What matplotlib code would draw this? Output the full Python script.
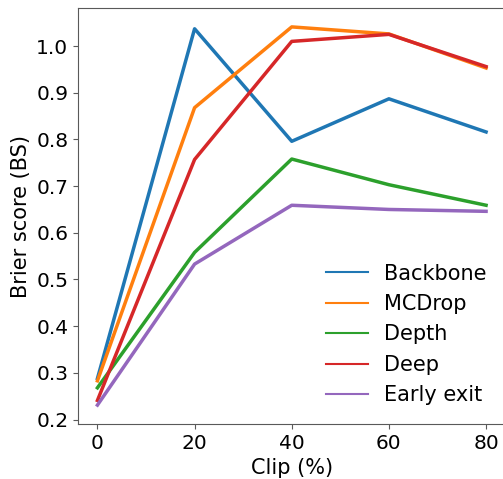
import matplotlib
matplotlib.use("Agg")
import matplotlib.pyplot as plt

# Brier score vs. clip percentage
clip = [0, 20, 40, 60, 80]
backbone = [0.288, 1.037, 0.796, 0.887, 0.816]
mcdrop = [0.283, 0.868, 1.041, 1.026, 0.953]
depth = [0.268, 0.558, 0.758, 0.703, 0.659]
deep = [0.241, 0.757, 1.010, 1.025, 0.956]
early_exit = [0.231, 0.533, 0.659, 0.650, 0.646]

series = [
    ("Backbone", backbone, "#1f77b4"),
    ("MCDrop", mcdrop, "#ff7f0e"),
    ("Depth", depth, "#2ca02c"),
    ("Deep", deep, "#d62728"),
    ("Early exit", early_exit, "#9467bd"),
]

plt.rcParams["font.size"] = 15

fig = plt.figure(figsize=(5.03, 4.79), dpi=100)
ax = fig.add_axes([78 / 503, 55 / 479, 427.5 / 503, 416 / 479])

for name, vals, col in series:
    ax.plot(clip, vals, color=col, linewidth=2.5, label=name)

ax.set_xticks([0, 20, 40, 60, 80])
ax.set_yticks([0.2, 0.3, 0.4, 0.5, 0.6, 0.7, 0.8, 0.9, 1.0])
ax.set_xlabel("Clip (%)")
ax.set_ylabel("Brier score (BS)")

for sp in ax.spines.values():
    sp.set_color("0.35")
ax.tick_params(colors="0.35", labelcolor="black", labelsize=14.5)

leg = ax.legend(loc="lower right", frameon=False)
for line in leg.get_lines():
    line.set_linewidth(1.5)

fig.savefig("out.png", dpi=100)
